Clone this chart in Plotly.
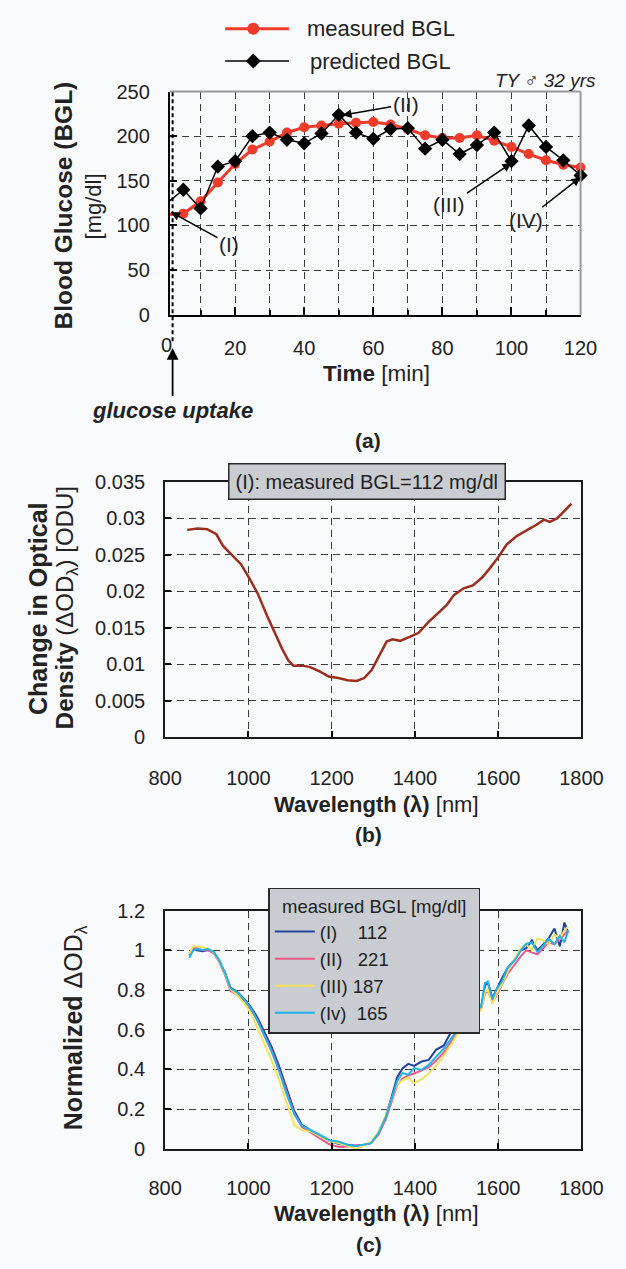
import plotly.graph_objects as go

W, H = 626, 1269
FONT = "Liberation Sans, Arial, sans-serif"
TXT = "#222222"
GRID = "#3c3c3c"
DASH = "7px,5px"

# ---------------- data: panel (a) ----------------
time_min = [0, 5, 10, 15, 20, 25, 30, 35, 40, 45, 50, 55, 60,
            65, 70, 75, 80, 85, 90, 95, 100, 105, 110, 115, 120]
bgl_measured = [112, 113, 127, 148, 169, 185, 194, 204, 210, 212, 214, 215, 216,
                213, 208, 201, 198, 198, 201, 195, 188, 180, 173, 168, 165]
bgl_predicted = [124, 140, 119, 166, 172, 200, 204, 196, 192, 203, 224, 204, 197,
                 208, 209, 186, 196, 180, 190, 204, 172, 212, 188, 173, 156]
glucose_uptake_time = 1.9

# ---------------- data: panel (b) ----------------
wl_b = [853, 878, 901, 923, 939, 959, 982, 1001, 1022, 1045,
        1063, 1081, 1096, 1108, 1130, 1148, 1171, 1193, 1216, 1238,
        1260, 1278, 1296, 1314, 1332, 1346, 1364, 1386, 1409, 1431,
        1454, 1476, 1494, 1517, 1539, 1562, 1582, 1602, 1620, 1643,
        1670, 1692, 1710, 1724, 1742, 1760, 1776]
od_b = [0.0284, 0.0286, 0.0285, 0.0278, 0.0262, 0.0251, 0.0237, 0.0219, 0.0197, 0.0166,
        0.0143, 0.0121, 0.0105, 0.0098, 0.0098, 0.0096, 0.0090, 0.0083, 0.0081, 0.0078,
        0.0077, 0.0081, 0.0092, 0.0111, 0.0131, 0.0134, 0.0132, 0.0137, 0.0143, 0.0157,
        0.0169, 0.0181, 0.0195, 0.0204, 0.0208, 0.0219, 0.0233, 0.0248, 0.0264, 0.0275,
        0.0284, 0.0291, 0.0298, 0.0295, 0.0300, 0.0311, 0.0320]
od_b_ticks = [0, 0.005, 0.01, 0.015, 0.02, 0.025, 0.03, 0.035]
od_b_ticktext = ["0", "0.005", "0.01", "0.015", "0.02", "0.025", "0.03", "0.035"]

# ---------------- data: panel (c) ----------------
wl_c = [858, 867, 876, 890, 903, 917, 930, 944, 957, 975,
        993, 1007, 1020, 1038, 1056, 1074, 1092, 1110, 1128, 1150,
        1173, 1195, 1218, 1240, 1258, 1276, 1294, 1312, 1330, 1344,
        1357, 1370, 1384, 1398, 1416, 1433, 1451, 1469, 1487, 1505,
        1523, 1541, 1559, 1568, 1575, 1586, 1595, 1609, 1622, 1640,
        1654, 1667, 1681, 1694, 1708, 1721, 1735, 1748, 1759, 1768]
norm_I = [0.975, 1.005, 1.000, 0.995, 1.002, 0.990, 0.948, 0.885, 0.812, 0.787,
          0.748, 0.710, 0.668, 0.592, 0.512, 0.415, 0.300, 0.192, 0.122, 0.092,
          0.066, 0.040, 0.025, 0.018, 0.016, 0.020, 0.030, 0.080, 0.165, 0.262,
          0.360, 0.405, 0.428, 0.418, 0.440, 0.448, 0.500, 0.520, 0.590, 0.615,
          0.665, 0.690, 0.712, 0.822, 0.840, 0.760, 0.800, 0.860, 0.910, 0.955,
          1.000, 1.010, 1.050, 1.000, 1.030, 1.060, 1.110, 1.020, 1.140, 1.090]
norm_II = [0.985, 1.010, 1.010, 1.000, 1.000, 0.985, 0.940, 0.875, 0.795, 0.775,
           0.740, 0.700, 0.655, 0.578, 0.495, 0.395, 0.282, 0.180, 0.112, 0.082,
           0.052, 0.022, 0.010, 0.012, 0.018, 0.018, 0.030, 0.070, 0.150, 0.240,
           0.320, 0.355, 0.370, 0.380, 0.395, 0.410, 0.445, 0.485, 0.540, 0.600,
           0.650, 0.690, 0.705, 0.780, 0.800, 0.740, 0.770, 0.830, 0.880, 0.930,
           0.970, 1.000, 0.990, 0.980, 1.010, 1.040, 1.030, 1.060, 1.080, 1.100]
norm_III = [0.980, 1.020, 1.020, 1.015, 1.010, 0.990, 0.945, 0.880, 0.805, 0.770,
            0.725, 0.680, 0.620, 0.530, 0.445, 0.345, 0.230, 0.120, 0.095, 0.088,
            0.062, 0.040, 0.028, 0.015, 0.000, 0.015, 0.035, 0.085, 0.170, 0.255,
            0.325, 0.345, 0.360, 0.330, 0.350, 0.380, 0.420, 0.470, 0.525, 0.590,
            0.640, 0.670, 0.700, 0.790, 0.800, 0.730, 0.780, 0.830, 0.890, 0.960,
            1.010, 1.030, 1.000, 1.060, 1.050, 1.030, 1.080, 1.060, 1.100, 1.120]
norm_IV = [0.963, 0.999, 1.007, 1.002, 1.007, 0.991, 0.950, 0.884, 0.810, 0.785,
           0.744, 0.703, 0.653, 0.571, 0.489, 0.390, 0.275, 0.176, 0.118, 0.094,
           0.069, 0.044, 0.036, 0.020, 0.015, 0.020, 0.028, 0.077, 0.160, 0.250,
           0.341, 0.382, 0.374, 0.407, 0.398, 0.423, 0.464, 0.505, 0.555, 0.612,
           0.662, 0.695, 0.716, 0.835, 0.843, 0.752, 0.802, 0.843, 0.909, 0.950,
           0.999, 1.032, 1.040, 0.991, 1.024, 1.057, 1.032, 1.073, 1.040, 1.098]
series_c_names = ["(I)\u00a0\u00a0\u00a0\u00a0112", "(II)\u00a0\u00a0\u00a0221",
                  "(III)\u00a0187", "(Iv)\u00a0\u00a0165"]
series_c_colors = ["#24439c", "#ee5a88", "#f4e25e", "#22b2e8"]
norm_ticks = [0, 0.2, 0.4, 0.6, 0.8, 1.0, 1.2]
norm_ticktext = ["0", "0.2", "0.4", "0.6", "0.8", "1", "1.2"]


def px(x):
    return x / W


def py(y):
    return 1 - y / H


RED = "#ee3b2a"

# panel (a) x axis geometry (paper domain + data range)
XA_DOM = [px(163), px(601)]
XA_RANGE = [1.1, 120]


def xa_paper(t):
    return XA_DOM[0] + (t - XA_RANGE[0]) / (XA_RANGE[1] - XA_RANGE[0]) * (XA_DOM[1] - XA_DOM[0])


fig = go.Figure()

# panel (a)
fig.add_trace(go.Scatter(x=time_min, y=bgl_measured, mode="lines+markers",
                         line=dict(color=RED, width=3),
                         marker=dict(symbol="circle", size=10, color=RED),
                         cliponaxis=False, showlegend=False, xaxis="x", yaxis="y"))
fig.add_trace(go.Scatter(x=time_min, y=bgl_predicted, mode="lines+markers",
                         line=dict(color="black", width=1.5),
                         marker=dict(symbol="diamond", size=11, color="black"),
                         cliponaxis=False, showlegend=False, xaxis="x", yaxis="y"))

# panel (b)
fig.add_trace(go.Scatter(x=wl_b, y=od_b, mode="lines",
                         line=dict(color="#9b2e1f", width=2.5),
                         showlegend=False, xaxis="x2", yaxis="y2"))

# panel (c)
for vals, name, col in zip([norm_I, norm_II, norm_III, norm_IV], series_c_names, series_c_colors):
    fig.add_trace(go.Scatter(x=wl_c, y=vals, mode="lines", name=name,
                             line=dict(color=col, width=2),
                             xaxis="x3", yaxis="y3"))

tickfont = dict(family=FONT, size=20, color=TXT)

common_grid = dict(showgrid=True, gridcolor=GRID, griddash=DASH, gridwidth=1, zeroline=False,
                   tickfont=tickfont, ticks="inside", tickcolor="black")

fig.update_layout(
    width=W, height=H, margin=dict(l=0, r=0, t=0, b=0),
    paper_bgcolor="#f9fafc", plot_bgcolor="#f9fafc",
    font=dict(family=FONT, color=TXT),
    xaxis=dict(domain=XA_DOM, range=XA_RANGE, anchor="y",
               tickmode="linear", tick0=0, dtick=20, ticklen=8, tickwidth=2,
               showline=True, linecolor="black", linewidth=2,
               ticklabelstandoff=14,
               minor=dict(tick0=0, dtick=10, ticks="inside", ticklen=5, tickwidth=1.5,
                          tickcolor="black", showgrid=True, gridcolor=GRID,
                          griddash=DASH, gridwidth=1),
               **common_grid),
    yaxis=dict(domain=[py(309), py(82)], range=[0, 250], anchor="x",
               tickmode="linear", tick0=0, dtick=50, ticklen=7, tickwidth=2,
               showline=True, linecolor="black", linewidth=2,
               ticklabelstandoff=14, **common_grid),
    xaxis2=dict(domain=[px(158), px(602)], range=[800, 1800], anchor="y2",
                tickmode="linear", tick0=800, dtick=200, ticklen=6, tickwidth=2,
                showline=True, mirror=True, linecolor="#1a1a1a", linewidth=2,
                ticklabelstandoff=22, **common_grid),
    yaxis2=dict(domain=[py(739), py(479)], range=[0, 0.035], anchor="x2",
                tickvals=od_b_ticks, ticktext=od_b_ticktext, ticklen=6, tickwidth=2,
                showline=True, mirror=True, linecolor="#1a1a1a", linewidth=2,
                ticklabelstandoff=14, **common_grid),
    xaxis3=dict(domain=[px(158), px(602)], range=[800, 1800], anchor="y3",
                tickmode="linear", tick0=800, dtick=200, ticklen=6, tickwidth=2,
                showline=True, mirror=True, linecolor="#1a1a1a", linewidth=2,
                ticklabelstandoff=20, **common_grid),
    yaxis3=dict(domain=[py(1158), py(915.5)], range=[0, 1.2], anchor="x3",
                tickvals=norm_ticks, ticktext=norm_ticktext, ticklen=6, tickwidth=2,
                showline=True, mirror=True, linecolor="#1a1a1a", linewidth=2,
                ticklabelstandoff=14, **common_grid),
    legend=dict(x=px(268), y=py(892), xanchor="left", yanchor="top",
                bgcolor="#c9ccd1", bordercolor="#2b2b2b", borderwidth=1.5,
                font=dict(family=FONT, size=18.5, color=TXT),
                title=dict(text="\u00a0\u00a0measured BGL [mg/dl]\u00a0\u00a0",
                           font=dict(family=FONT, size=18.5, color=TXT)),
                itemwidth=40, tracegroupgap=0),
)

shapes = []
# grey top / right border of panel (a)
shapes.append(dict(type="line", xref="x domain", yref="y domain", x0=0, x1=1, y0=1, y1=1,
                   line=dict(color="#9a9a9a", width=2)))
shapes.append(dict(type="line", xref="x domain", yref="y domain", x0=1, x1=1, y0=0, y1=1,
                   line=dict(color="#9a9a9a", width=2)))
# glucose uptake dashed line
shapes.append(dict(type="line", xref="x", yref="paper", x0=glucose_uptake_time, x1=glucose_uptake_time,
                   y0=py(336), y1=py(82), line=dict(color="black", width=2, dash="4px,3px")))
# custom legend keys for panel (a)
shapes.append(dict(type="line", xref="paper", yref="paper", x0=px(222), x1=px(290), y0=py(18), y1=py(18),
                   line=dict(color=RED, width=3)))
shapes.append(dict(type="circle", xref="paper", yref="paper", xsizemode="pixel", ysizemode="pixel",
                   xanchor=px(252), yanchor=py(18), x0=-6, x1=6, y0=-6, y1=6,
                   fillcolor=RED, line=dict(color=RED, width=0)))
shapes.append(dict(type="line", xref="paper", yref="paper", x0=px(222), x1=px(290), y0=py(51), y1=py(51),
                   line=dict(color="black", width=1.5)))
shapes.append(dict(type="path", xref="paper", yref="paper", xsizemode="pixel", ysizemode="pixel",
                   xanchor=px(252), yanchor=py(51), path="M 0 -7.5 L 7.5 0 L 0 7.5 L -7.5 0 Z",
                   fillcolor="black", line=dict(color="black", width=0)))
fig.update_layout(shapes=shapes)

ann = []


def add_text(text, x, y, size, xanchor="center", angle=0, xref="paper", yref="paper", **kw):
    ann.append(dict(text=text, x=x, y=y, xref=xref, yref=yref, showarrow=False,
                    xanchor=xanchor, yanchor="middle", textangle=angle,
                    font=dict(family=FONT, size=size, color=TXT), **kw))


# legend text (a)
add_text("measured BGL", px(307), py(18), 22, xanchor="left")
add_text("predicted BGL", px(310), py(51), 22, xanchor="left")
add_text("<i>TY \u2642 32 yrs</i>", px(564), py(71), 19)

# panel (a) axis titles
add_text("<b>Blood Glucose (BGL)</b>", px(50), py(198), 24.5, angle=-90)
add_text("[mg/dl]", px(82), py(199), 22, angle=-90)
add_text("<b>Time</b> [min]", px(383), py(369), 22.5)
add_text("0", xa_paper(0), py(340), 20)
add_text("<b>(a)</b>", px(374), py(437), 21)

# glucose uptake label with vertical arrow
ann.append(dict(text="<b><i>glucose uptake</i></b>", x=xa_paper(glucose_uptake_time), y=py(343),
                xref="paper", yref="paper", showarrow=True, ax=0, ay=62,
                arrowhead=2, arrowsize=1.3, arrowwidth=1.8, arrowcolor="black",
                font=dict(family=FONT, size=22, color=TXT)))

# roman numeral callouts
for label, tx, ty, ax, ay in [("(I)", 1.4, 115, 58, 32), ("(II)", 51.1, 223.5, 63, -11),
                              ("(III)", 100, 170, -62, 42), ("(IV)", 120, 154, -55, 43)]:
    ann.append(dict(text=label, x=tx, y=ty, xref="x", yref="y", showarrow=True,
                    ax=ax, ay=ay, arrowhead=2, arrowsize=1.2, arrowwidth=1.5, arrowcolor="black",
                    font=dict(family=FONT, size=21, color=TXT)))

# panel (b) titles
add_text("<b>Change in Optical</b>", px(23), py(608), 25, angle=-90)
add_text("<b>Density</b> (\u0394OD<sub>\u03bb</sub>) [ODU]", px(53), py(607), 24, angle=-90)
add_text("<b>Wavelength (\u03bb)</b> [nm]", px(383), py(808), 22)
add_text("<b>(b)</b>", px(375), py(838), 21)
ann.append(dict(text="(I): measured BGL=112 mg/dl", x=px(373.5), y=py(479), xref="paper", yref="paper",
                showarrow=False, xanchor="center", yanchor="middle",
                bgcolor="#c9ccd1", bordercolor="#2b2b2b", borderwidth=1.5, borderpad=6,
                font=dict(family=FONT, size=20, color=TXT)))

# panel (c) titles
add_text("<b>Normalized</b> \u0394OD<sub>\u03bb</sub>", px(62), py(1035), 25, angle=-90)
add_text("<b>Wavelength (\u03bb)</b> [nm]", px(383), py(1224), 22)
add_text("<b>(c)</b>", px(375), py(1255), 21)

fig.update_layout(annotations=ann)

fig.write_html("out.html")
